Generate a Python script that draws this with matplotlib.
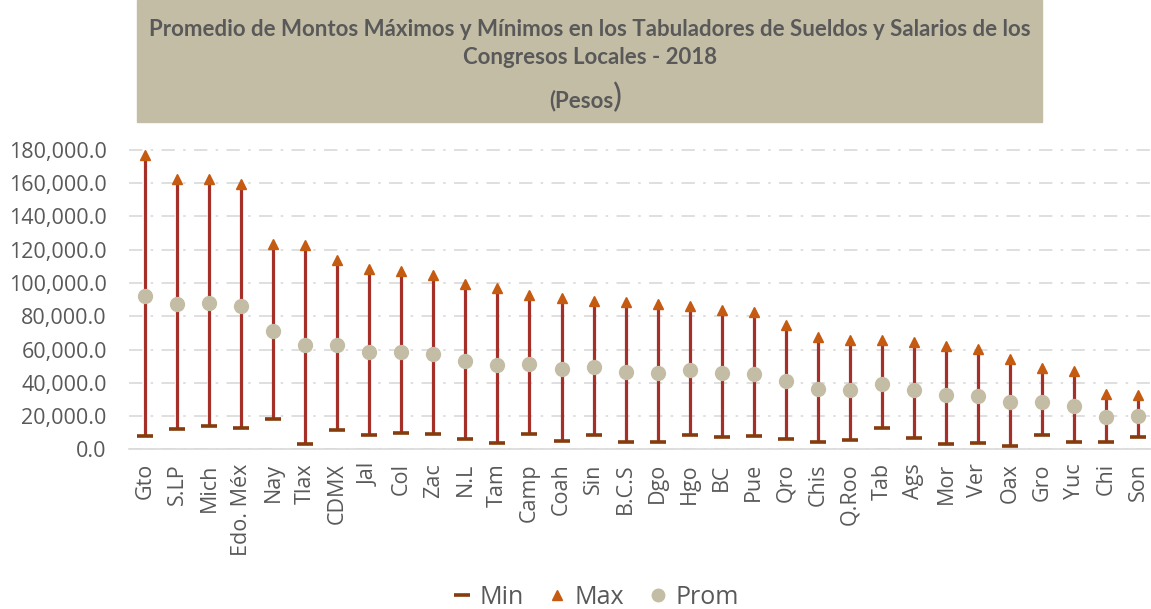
import matplotlib.pyplot as plt
from matplotlib.lines import Line2D
from matplotlib.patches import Rectangle
from matplotlib.ticker import FuncFormatter

# data (pesos)
estados = ["Gto", "S.LP", "Mich", "Edo. Méx", "Nay", "Tlax", "CDMX", "Jal", "Col", "Zac",
           "N.L", "Tam", "Camp", "Coah", "Sin", "B.C.S", "Dgo", "Hgo", "BC", "Pue",
           "Qro", "Chis", "Q.Roo", "Tab", "Ags", "Mor", "Ver", "Oax", "Gro", "Yuc",
           "Chi", "Son"]
minimo = [8000, 12000, 14000, 12800, 18200, 3200, 11600, 8600, 9800, 9200,
          6200, 3800, 9200, 5000, 8600, 4400, 4400, 8600, 7400, 8000,
          6200, 4200, 5400, 12600, 6600, 3000, 3600, 1800, 8400, 4200,
          4200, 7200]
maximo = [177000, 162600, 162600, 159600, 123600, 122900, 114000, 108600, 107100, 104900,
          99600, 97000, 92800, 91000, 89300, 88600, 87600, 86000, 84000, 82500,
          74800, 67400, 65800, 65600, 64400, 62300, 60300, 54200, 48600, 47300,
          33400, 32900]
promedio = [92300, 87300, 88100, 86300, 70900, 62900, 62900, 58700, 58300, 57100,
            53100, 50900, 51500, 48300, 49300, 46700, 46100, 47500, 45900, 45400,
            40900, 36000, 35600, 39200, 35600, 32800, 32200, 28200, 28600, 25800,
            19200, 20200]

gris = "#595959"
beige = "#C4BDA5"

plt.rcParams['font.family'] = ['Open Sans', 'DejaVu Sans']

fig = plt.figure(figsize=(11.51, 6.09), dpi=100)

# title box
fig.patches.append(Rectangle((137 / 1151, 1 - 122 / 609), 905 / 1151, 122 / 609,
                             transform=fig.transFigure, color=beige, zorder=0))
fig.text(590 / 1151, 1 - 29 / 609,
         "Promedio de Montos Máximos y Mínimos en los Tabuladores de Sueldos y Salarios de los",
         ha="center", va="center", fontsize=16, fontweight="bold", color=gris, family="Lato")
fig.text(590 / 1151, 1 - 58 / 609, "Congresos Locales - 2018",
         ha="center", va="center", fontsize=16, fontweight="bold", color=gris, family="Lato")
fig.text(613 / 1151, 1 - 101 / 609, "(Pesos", ha="right", va="center",
         fontsize=16, fontweight="bold", color=gris, family="Lato")
fig.text(613 / 1151, 1 - 98 / 609, ")", ha="left", va="center",
         fontsize=24, color=gris, family="Lato")

ax = fig.add_axes([129 / 1151, (609 - 449.3) / 609, 1022 / 1151, 309.3 / 609])

x = list(range(len(estados)))

# high-low lines
ax.vlines(x, minimo, maximo, color="#A5302A", linewidth=2.3, zorder=2)
ax.plot(x, minimo, linestyle="none", marker="_", markersize=11, markeredgewidth=2.6,
        color="#843C0C", zorder=3, clip_on=False)
ax.plot(x, maximo, linestyle="none", marker="^", markersize=7.5, color="#C55A11", zorder=3,
        clip_on=False)
ax.plot(x, promedio, linestyle="none", marker="o", markersize=10, color=beige, zorder=4)

ax.set_xlim(-0.5, 31.4)
ax.set_ylim(0, 186000)
ax.set_yticks(range(0, 180001, 20000))
ax.yaxis.set_major_formatter(FuncFormatter(lambda v, p: f"{v:,.1f}"))
ax.set_xticks(x)
ax.set_xticklabels(estados, rotation=90)
ax.tick_params(axis="both", length=0, colors=gris)
ax.tick_params(axis="y", pad=16, labelsize=15.5)
ax.tick_params(axis="x", pad=10, labelsize=15.5)

ax.grid(axis="y", color="#D9D9D9", linewidth=1.2, linestyle=(0, (8, 5, 1.5, 5)))
ax.set_axisbelow(True)
for s in ["top", "right", "left"]:
    ax.spines[s].set_visible(False)
ax.spines["bottom"].set_color("#D9D9D9")
ax.spines["bottom"].set_linewidth(1.2)

handles = [
    Line2D([], [], linestyle="none", marker="_", markersize=11, markeredgewidth=2.6, color="#843C0C"),
    Line2D([], [], linestyle="none", marker="^", markersize=7, color="#C55A11"),
    Line2D([], [], linestyle="none", marker="o", markersize=9, color=beige),
]
fig.legend(handles, ["Min", "Max", "Prom"], loc="center", bbox_to_anchor=(0.515, 1 - 597 / 609),
           ncol=3, frameon=False, fontsize=18, labelcolor=gris, handletextpad=0.1,
           columnspacing=0.75, handlelength=1.2)

fig.savefig("out.png", dpi=100)
